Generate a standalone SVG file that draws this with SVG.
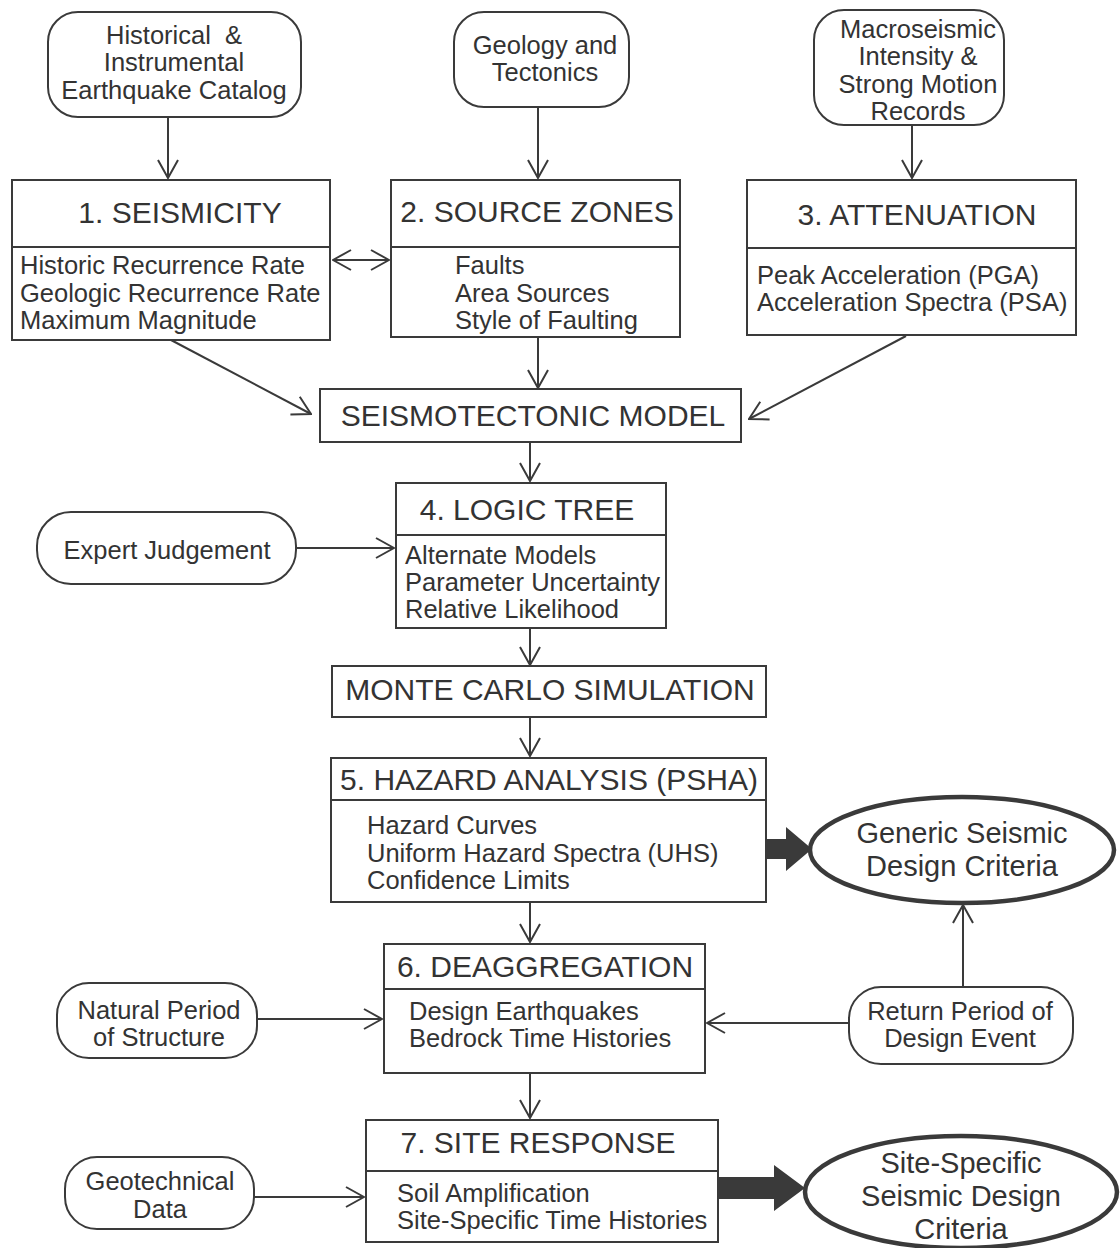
<svg xmlns="http://www.w3.org/2000/svg" width="1120" height="1248" viewBox="0 0 1120 1248">
<style>
.bx{fill:#fff;stroke:#3a3a3a;stroke-width:2}
.in{fill:#fff;stroke:#3a3a3a;stroke-width:2}
.el{fill:#fff;stroke:#3a3a3a;stroke-width:4.5}
.dv{stroke:#3a3a3a;stroke-width:2}
.t{font-family:"Liberation Sans",Arial,sans-serif;font-size:25.5px;fill:#333}
.c{text-anchor:middle}
.h{font-family:"Liberation Sans",Arial,sans-serif;font-size:30px;fill:#333;text-anchor:middle}
.e{font-family:"Liberation Sans",Arial,sans-serif;font-size:29px;fill:#333;text-anchor:middle}
.ln{stroke:#3a3a3a;stroke-width:2;fill:none;marker-end:url(#ah)}
.thick{fill:#3a3a3a}
</style>
<defs>
<marker id="ah" markerUnits="userSpaceOnUse" viewBox="0 0 20 22" markerWidth="20" markerHeight="22" refX="19" refY="11" orient="auto-start-reverse">
<path d="M1,1 L19,11 L1,21" fill="none" stroke="#3a3a3a" stroke-width="2"/>
</marker>
</defs>
<rect width="1120" height="1248" fill="#fff"/>

<g id="connectors">
<line class="ln" x1="168" y1="117" x2="168" y2="178"/>
<line class="ln" x1="538" y1="107" x2="538" y2="178"/>
<line class="ln" x1="912" y1="125" x2="912" y2="178"/>
<line class="ln" x1="333" y1="260" x2="389" y2="260" style="marker-start:url(#ah)"/>
<line class="ln" x1="171" y1="340" x2="311" y2="414"/>
<line class="ln" x1="538" y1="337" x2="538" y2="388"/>
<line class="ln" x1="906" y1="336" x2="749" y2="419"/>
<line class="ln" x1="530" y1="442" x2="530" y2="481"/>
<line class="ln" x1="296" y1="548" x2="394" y2="548"/>
<line class="ln" x1="530" y1="628" x2="530" y2="665"/>
<line class="ln" x1="530" y1="717" x2="530" y2="756"/>
<line class="ln" x1="530" y1="902" x2="530" y2="942"/>
<line class="ln" x1="257" y1="1019" x2="382" y2="1019"/>
<line class="ln" x1="849" y1="1023" x2="707" y2="1023"/>
<line class="ln" x1="963" y1="987" x2="963" y2="905"/>
<line class="ln" x1="530" y1="1073" x2="530" y2="1118"/>
<line class="ln" x1="254" y1="1197" x2="364" y2="1197"/>
<polygon class="thick" points="766,839 786,839 786,827 812,849 786,871 786,859 766,859"/>
<polygon class="thick" points="718,1177 774,1177 774,1165 805,1188 774,1211 774,1199 718,1199"/>
</g>

<g id="historical">
<rect class="in" x="48" y="12" width="253" height="105" rx="30"/>
<text class="t c" x="174" y="44">Historical&#160; &amp;</text>
<text class="t c" x="174" y="71">Instrumental</text>
<text class="t c" x="174" y="99">Earthquake Catalog</text>
</g>
<g id="geology">
<rect class="in" x="454" y="12" width="175" height="95" rx="30"/>
<text class="t c" x="545" y="54">Geology and</text>
<text class="t c" x="545" y="81">Tectonics</text>
</g>
<g id="macroseismic">
<rect class="in" x="814" y="10" width="190" height="115" rx="30"/>
<text class="t c" x="918" y="38">Macroseismic</text>
<text class="t c" x="918" y="65">Intensity &amp;</text>
<text class="t c" x="918" y="93">Strong Motion</text>
<text class="t c" x="918" y="120">Records</text>
</g>

<g id="seismicity">
<rect class="bx" x="12" y="180" width="318" height="160"/>
<line class="dv" x1="12" y1="247" x2="330" y2="247"/>
<text class="h" x="180" y="223">1. SEISMICITY</text>
<text class="t" x="20" y="274">Historic Recurrence Rate</text>
<text class="t" x="20" y="302">Geologic Recurrence Rate</text>
<text class="t" x="20" y="329">Maximum Magnitude</text>
</g>
<g id="source-zones">
<rect class="bx" x="391" y="180" width="289" height="157"/>
<line class="dv" x1="391" y1="247" x2="680" y2="247"/>
<text class="h" x="537" y="222">2. SOURCE ZONES</text>
<text class="t" x="455" y="274">Faults</text>
<text class="t" x="455" y="302">Area Sources</text>
<text class="t" x="455" y="329">Style of Faulting</text>
</g>
<g id="attenuation">
<rect class="bx" x="747" y="180" width="329" height="155"/>
<line class="dv" x1="747" y1="248" x2="1076" y2="248"/>
<text class="h" x="917" y="225">3. ATTENUATION</text>
<text class="t" x="757" y="284">Peak Acceleration (PGA)</text>
<text class="t" x="757" y="311">Acceleration Spectra (PSA)</text>
</g>

<g id="seismotectonic-model">
<rect class="bx" x="320" y="389" width="421" height="53"/>
<text class="h" x="533" y="426">SEISMOTECTONIC MODEL</text>
</g>

<g id="expert-judgement">
<rect class="in" x="37" y="512" width="259" height="72" rx="34"/>
<text class="t c" x="167" y="559">Expert Judgement</text>
</g>
<g id="logic-tree">
<rect class="bx" x="396" y="483" width="270" height="145"/>
<line class="dv" x1="396" y1="535" x2="666" y2="535"/>
<text class="h" x="527" y="520">4. LOGIC TREE</text>
<text class="t" x="405" y="564">Alternate Models</text>
<text class="t" x="405" y="591">Parameter Uncertainty</text>
<text class="t" x="405" y="618">Relative Likelihood</text>
</g>

<g id="monte-carlo">
<rect class="bx" x="332" y="666" width="434" height="51"/>
<text class="h" x="550" y="700">MONTE CARLO SIMULATION</text>
</g>

<g id="hazard-analysis">
<rect class="bx" x="331" y="758" width="435" height="144"/>
<line class="dv" x1="331" y1="800" x2="766" y2="800"/>
<text class="h" x="549" y="790">5. HAZARD ANALYSIS (PSHA)</text>
<text class="t" x="367" y="834">Hazard Curves</text>
<text class="t" x="367" y="862">Uniform Hazard Spectra (UHS)</text>
<text class="t" x="367" y="889">Confidence Limits</text>
</g>
<g id="generic-criteria">
<ellipse class="el" cx="962" cy="850" rx="152" ry="53"/>
<text class="e" x="962" y="843">Generic Seismic</text>
<text class="e" x="962" y="876">Design Criteria</text>
</g>

<g id="natural-period">
<rect class="in" x="57" y="983" width="200" height="75" rx="32"/>
<text class="t c" x="159" y="1019">Natural Period</text>
<text class="t c" x="159" y="1046">of Structure</text>
</g>
<g id="deaggregation">
<rect class="bx" x="384" y="944" width="321" height="129"/>
<line class="dv" x1="384" y1="989" x2="705" y2="989"/>
<text class="h" x="545" y="977">6. DEAGGREGATION</text>
<text class="t" x="409" y="1020">Design Earthquakes</text>
<text class="t" x="409" y="1047">Bedrock Time Histories</text>
</g>
<g id="return-period">
<rect class="in" x="849" y="987" width="224" height="77" rx="32"/>
<text class="t c" x="960" y="1020">Return Period of</text>
<text class="t c" x="960" y="1047">Design Event</text>
</g>

<g id="geotechnical">
<rect class="in" x="65" y="1157" width="189" height="72" rx="32"/>
<text class="t c" x="160" y="1190">Geotechnical</text>
<text class="t c" x="160" y="1218">Data</text>
</g>
<g id="site-response">
<rect class="bx" x="366" y="1120" width="352" height="122"/>
<line class="dv" x1="366" y1="1171" x2="718" y2="1171"/>
<text class="h" x="538" y="1153">7. SITE RESPONSE</text>
<text class="t" x="397" y="1202">Soil Amplification</text>
<text class="t" x="397" y="1229">Site-Specific Time Histories</text>
</g>
<g id="site-criteria">
<ellipse class="el" cx="961" cy="1192" rx="156" ry="56"/>
<text class="e" x="961" y="1173">Site-Specific</text>
<text class="e" x="961" y="1206">Seismic Design</text>
<text class="e" x="961" y="1239">Criteria</text>
</g>
</svg>
